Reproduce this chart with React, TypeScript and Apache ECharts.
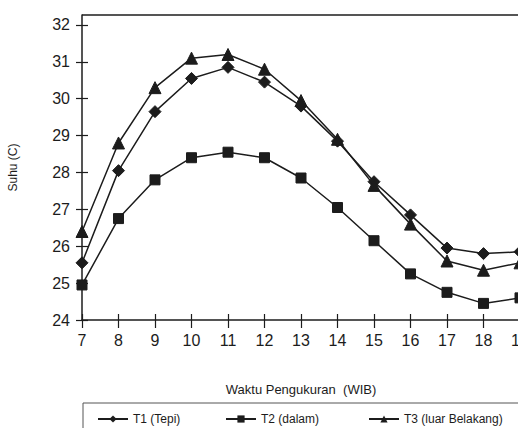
import React, { useEffect, useRef } from "react";
import * as echarts from "echarts";

const hours = ["7", "8", "9", "10", "11", "12", "13", "14", "15", "16", "17", "18", "19"];
const t1Tepi = [25.55, 28.05, 29.65, 30.55, 30.85, 30.45, 29.8, 28.85, 27.75, 26.85, 25.95, 25.8, 25.85];
const t2Dalam = [24.95, 26.75, 27.8, 28.4, 28.55, 28.4, 27.85, 27.05, 26.15, 25.25, 24.75, 24.45, 24.6];
const t3Luar = [26.4, 28.8, 30.3, 31.1, 31.2, 30.8, 29.95, 28.9, 27.65, 26.6, 25.6, 25.35, 25.55];
const yTicks = [24, 25, 26, 27, 28, 29, 30, 31, 32];

const INK = "#1c1c1c";
const FONT = "Liberation Sans, Arial, sans-serif";

export default function App() {
  const ref = useRef<HTMLDivElement>(null);
  useEffect(() => {
    if (!ref.current) return;
    const chart = echarts.init(ref.current, null, { renderer: "svg" });
    const lineSeries = (name: string, data: number[], symbol: string, size: number) => ({
      name,
      type: "line",
      data,
      symbol,
      symbolSize: size,
      lineStyle: { color: INK, width: 1.5 },
      itemStyle: { color: INK, borderColor: INK },
      emphasis: { disabled: true },
    });
    const legendBase = {
      top: 413,
      padding: 0,
      itemWidth: 30,
      itemHeight: 9,
      textStyle: { fontFamily: FONT, fontSize: 12, color: INK },
      selectedMode: false,
    };
    chart.setOption({
      animation: false,
      backgroundColor: "#fff",
      textStyle: { fontFamily: FONT },
      grid: { left: 82, right: -2, top: 15, bottom: 108, outerBoundsMode: "none", containLabel: false },
      xAxis: [
        {
          type: "category",
          data: hours,
          boundaryGap: false,
          name: "Waktu Pengukuran  (WIB)",
          nameLocation: "middle",
          nameGap: 63,
          nameTextStyle: { fontFamily: FONT, fontSize: 13, color: INK },
          axisLine: { lineStyle: { color: INK, width: 1.5 } },
          axisTick: { length: 8, alignWithLabel: true, lineStyle: { color: INK, width: 1.2 } },
          axisLabel: { fontFamily: FONT, fontSize: 16, color: INK, margin: 12, interval: 0 },
          splitLine: { show: false },
        },
        {
          type: "category",
          data: hours,
          boundaryGap: false,
          position: "bottom",
          axisLine: { show: false },
          axisTick: { inside: true, length: 6, lineStyle: { color: INK, width: 1.2 } },
          axisLabel: { show: false },
          splitLine: { show: false },
        },
      ],
      yAxis: [
        {
          type: "value",
          min: 24,
          max: 32.27,
          name: "Suhu (C)",
          nameLocation: "middle",
          nameGap: 63,
          nameTextStyle: { fontFamily: FONT, fontSize: 12, color: INK },
          axisLine: { show: true, lineStyle: { color: INK, width: 1.5 } },
          axisTick: { show: true, length: 6, customValues: yTicks, lineStyle: { color: INK, width: 1.2 } },
          axisLabel: { fontFamily: FONT, fontSize: 16, color: INK, margin: 12, customValues: yTicks },
          splitLine: { show: false },
        },
        {
          type: "value",
          min: 24,
          max: 32.27,
          position: "left",
          axisLine: { show: false },
          axisTick: { show: true, inside: true, length: 6, customValues: yTicks, lineStyle: { color: INK, width: 1.2 } },
          axisLabel: { show: false },
          splitLine: { show: false },
        },
      ],
      legend: [
        { ...legendBase, left: 97, data: ["T1 (Tepi)"] },
        { ...legendBase, left: 225, data: ["T2 (dalam)"] },
        { ...legendBase, left: 368, data: ["T3 (luar Belakang)"] },
      ],
      graphic: [
        {
          type: "line",
          shape: { x1: 82, y1: 15, x2: 520, y2: 15 },
          style: { stroke: INK, lineWidth: 1.5 },
        },
        {
          type: "rect",
          shape: { x: 83, y: 403, width: 460, height: 40 },
          style: { fill: "none", stroke: "#555", lineWidth: 1 },
        },
      ],
      series: [
        lineSeries("T1 (Tepi)", t1Tepi, "diamond", 12),
        lineSeries("T2 (dalam)", t2Dalam, "rect", 10),
        lineSeries("T3 (luar Belakang)", t3Luar, "triangle", 12),
      ],
    });
    return () => chart.dispose();
  }, []);
  return (
    <div
      ref={ref}
      style={{ position: "absolute", left: 0, top: 0, width: 518, height: 428, background: "#fff" }}
    />
  );
}
